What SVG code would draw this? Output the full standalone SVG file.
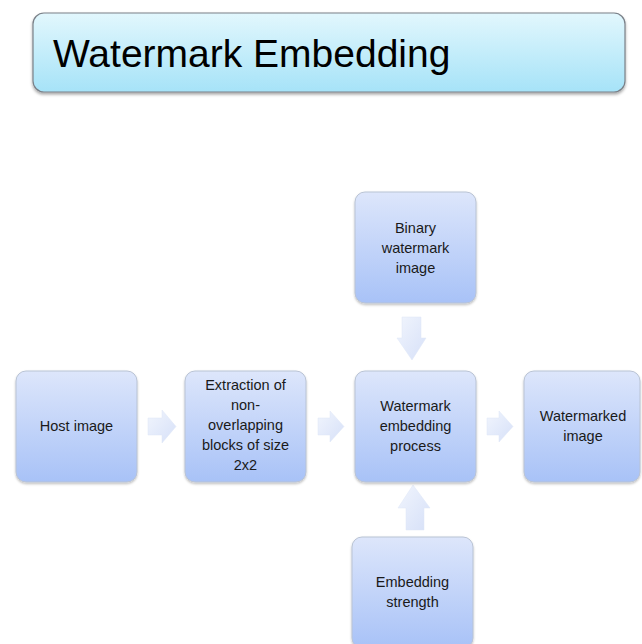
<svg xmlns="http://www.w3.org/2000/svg" width="642" height="644" viewBox="0 0 642 644">
<defs>
<linearGradient id="tg" x1="0" y1="0" x2="0" y2="1">
<stop offset="0" stop-color="#e2f7fd"/>
<stop offset="1" stop-color="#a6e3f8"/>
</linearGradient>
<linearGradient id="bg" x1="0" y1="0" x2="0" y2="1">
<stop offset="0" stop-color="#dde6fb"/>
<stop offset="1" stop-color="#a8c2f7"/>
</linearGradient>
<linearGradient id="ag" x1="0" y1="0" x2="1" y2="1">
<stop offset="0" stop-color="#f1f5fd"/>
<stop offset="1" stop-color="#d6e0f8"/>
</linearGradient>
<filter id="sh" x="-10%" y="-10%" width="120%" height="130%">
<feDropShadow dx="0" dy="2" stdDeviation="1.5" flood-color="#000" flood-opacity="0.35"/>
</filter>
<filter id="sh2" x="-10%" y="-10%" width="120%" height="130%">
<feDropShadow dx="0" dy="1.5" stdDeviation="1.2" flood-color="#000" flood-opacity="0.25"/>
</filter>
</defs>
<style>
.box{fill:url(#bg);stroke:#b9c3d4;stroke-width:1;filter:url(#sh2)}
.t{font-family:"Liberation Sans",Arial,sans-serif;font-size:14.5px;fill:#1a1a1a;text-anchor:middle}
.arr{fill:url(#ag);stroke:#dfe6f6;stroke-width:0.5}
</style>
<rect width="642" height="644" fill="#ffffff"/>
<g id="title">
<rect x="33" y="13" width="592" height="79" rx="11" fill="url(#tg)" stroke="#7a8088" stroke-width="1.2" filter="url(#sh)"/>
<text x="53" y="67" font-family="Liberation Sans,Arial,sans-serif" font-size="39" fill="#000">Watermark Embedding</text>
</g>
<g id="connectors">
<path class="arr" d="M148,418 H162 V410 L176,426.5 L162,443 V435 H148 Z"/>
<path class="arr" d="M318,418 H330 V411 L344,426.5 L330,442 V435 H318 Z"/>
<path class="arr" d="M487,418 H499 V411 L513,426.5 L499,442 V435 H487 Z"/>
<path class="arr" d="M402,317 H421 V338 H426 L412,360 L397,338 H402 Z"/>
<path class="arr" d="M406,530 H424 V508 H430 L413,485 L398,508 H406 Z"/>
</g>
<g id="host">
<rect class="box" x="16" y="371" width="121" height="111" rx="10"/>
<text class="t" x="76.5" y="431">Host image</text>
</g>
<g id="extraction">
<rect class="box" x="185" y="371" width="121" height="111" rx="10"/>
<text class="t" x="245.5" y="390">Extraction of</text>
<text class="t" x="245.5" y="410">non-</text>
<text class="t" x="245.5" y="430">overlapping</text>
<text class="t" x="245.5" y="450">blocks of size</text>
<text class="t" x="245.5" y="470">2x2</text>
</g>
<g id="process">
<rect class="box" x="355" y="371" width="121" height="111" rx="10"/>
<text class="t" x="415.5" y="411">Watermark</text>
<text class="t" x="415.5" y="431">embedding</text>
<text class="t" x="415.5" y="451">process</text>
</g>
<g id="watermarked">
<rect class="box" x="524" y="371" width="116" height="111" rx="10"/>
<text class="t" x="583" y="421">Watermarked</text>
<text class="t" x="583" y="441">image</text>
</g>
<g id="binary">
<rect class="box" x="355" y="192" width="121" height="111" rx="10"/>
<text class="t" x="415.5" y="233">Binary</text>
<text class="t" x="415.5" y="253">watermark</text>
<text class="t" x="415.5" y="273">image</text>
</g>
<g id="strength">
<rect class="box" x="352" y="537" width="121" height="111" rx="10"/>
<text class="t" x="412.5" y="587">Embedding</text>
<text class="t" x="412.5" y="607">strength</text>
</g>
</svg>
